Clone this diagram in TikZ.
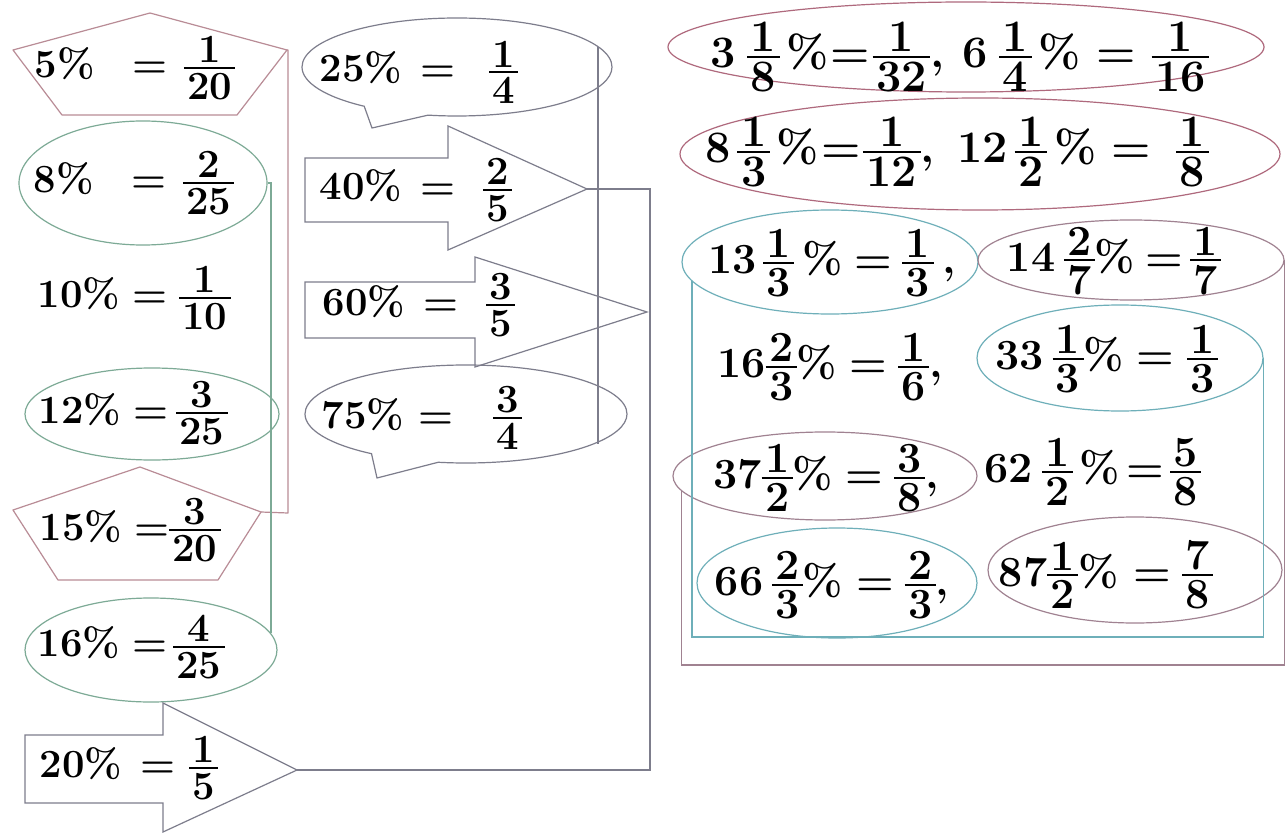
\documentclass[tikz,border=0pt]{standalone}
\usetikzlibrary{shapes.geometric,shapes.callouts}
\definecolor{greenl}{RGB}{125,170,150}
\definecolor{pinkl}{RGB}{185,140,150}
\definecolor{grayl}{RGB}{125,125,140}
\definecolor{redl}{RGB}{175,105,125}
\definecolor{cyanl}{RGB}{110,175,185}
\definecolor{pgrayl}{RGB}{160,130,145}
\newcommand\fr[2]{\lower0.5325em\vbox{\offinterlineskip
 \halign{\hfil##\hfil\cr
 \kern0.08em\rule{0pt}{0.66em}#1\kern0.08em\cr
 \noalign{\kern0.1em}
 \leaders\hrule height 0.045em\hfill\cr
 \noalign{\kern0.1em}
 \kern0.08em\rule{0pt}{0.66em}#2\kern0.08em\cr}}}
\newcommand\hs[1]{\hspace{#1em}}
\tikzset{
 lbl/.style={inner sep=0pt, font=\fontsize{40}{44}\selectfont\bfseries},
 rlbl/.style={inner sep=0pt, font=\fontsize{43}{47}\selectfont\bfseries},
 big/.style={inner sep=0pt, font=\fontsize{45}{49}\selectfont\bfseries},
 ell/.style={ellipse, draw, line width=1.2pt, inner sep=0pt},
 greenell/.style={ell, draw=greenl},
 redell/.style={ell, draw=redl},
 cyanell/.style={ell, draw=cyanl},
 pgell/.style={ell, draw=pgrayl},
 pentline/.style={draw=pinkl, line width=1.2pt, line join=round},
 arrline/.style={draw=grayl, line width=1.2pt},
 callbox/.style={ellipse callout, draw=grayl, line width=1.2pt, inner sep=0pt, callout pointer arc=26},
 conn/.style={draw=grayl, line width=1.6pt},
}
\begin{document}
\begin{tikzpicture}[x=1pt,y=-1pt]
\useasboundingbox[fill=white] (0,0) rectangle (1287,834);
% ---------- left column ----------
\draw[pentline] (150,13) -- (287,50) coordinate (p5r) -- (237,115) -- (62,115) -- (13,50) -- cycle;
\node[lbl] (t5) at (135,68) {5\%\hs{0.95}=\hs{0.4}\fr{1}{20}};
\node[greenell, minimum width=248pt, minimum height=124pt] (e8) at (143,183) {};
\node[lbl] (t8) at (134,183) {8\%\hs{0.95}=\hs{0.4}\fr{2}{25}};
\node[lbl] (t10) at (134,298) {10\%\hs{0.3}=\hs{0.3}\fr{1}{10}};
\node[greenell, minimum width=254pt, minimum height=92pt] (e12) at (152,414) {};
\node[lbl] (t12) at (133,413) {12\%\hs{0.3}=\hs{0.2}\fr{3}{25}};
\draw[pentline] (140,467) -- (261,512) coordinate (p15r) -- (218,580) -- (58,580) -- (13,510) -- cycle;
\node[lbl] (t15) at (130,530) {15\%\hs{0.3}=\fr{3}{20}};
\node[greenell, minimum width=252pt, minimum height=104pt] (e16) at (151,650) {};
\node[lbl] (t16) at (131,647) {16\%\hs{0.3}=\hs{0.15}\fr{4}{25}};
\draw[arrline] (25,735) -- (163,735) -- (163,703) -- (297,770) coordinate (a20tip) -- (163,832) -- (163,803) -- (25,803) -- cycle;
\node[lbl] (t20) at (129,768) {20\%\hs{0.45}=\hs{0.35}\fr{1}{5}};
% ---------- middle column ----------
\node[callbox, minimum width=310pt, minimum height=98pt, callout absolute pointer={(372,128)}] (c25) at (457,67) {};
\node[lbl] (t25) at (419,72) {25\%\hs{0.45}=\hs{0.85}\fr{1}{4}};
\draw[arrline] (305,158) -- (448,158) -- (448,126) -- (587,189) coordinate (a40tip) -- (448,250) -- (448,222) -- (305,222) -- cycle;
\node[lbl] (t40) at (416,190) {40\%\hs{0.45}=\hs{0.7}\fr{2}{5}};
\draw[arrline] (305,282) -- (475,282) -- (475,257) -- (647,312) coordinate (a60tip) -- (475,367) -- (475,338) -- (305,338) -- cycle;
\node[lbl] (t60) at (419,305) {60\%\hs{0.45}=\hs{0.7}\fr{3}{5}};
\node[callbox, minimum width=322pt, minimum height=98pt, callout absolute pointer={(377,478)}] (c75) at (466,414) {};
\node[lbl] (t75) at (422,418) {75\%\hs{0.35}=\hs{1.0}\fr{3}{4}};
\coordinate (g1) at (598,47);
\coordinate (g2) at (598,444);
\draw[conn, line width=1.2pt] (g1) -- (g2);
% pink bracket 5% -- 15%
\coordinate (b1) at (288,513);
\draw[pentline] (p5r) -- (288,50) -- (b1) -- (p15r);
% green bracket 8% -- 16%
\draw[draw=greenl, line width=1.2pt] (e8.east) -| (e16.8);
% main connector
\coordinate (j) at (650,770);
\draw[conn] (a40tip) -| (j) -- (a20tip);
% ---------- right column ----------
\node[redell, minimum width=596pt, minimum height=90pt] (E1) at (966,47) {};
\node[big] (r1) at (960,57) {3\hs{0.25}\fr{1}{8}\hs{0.15}\%\hs{0.05}=\hs{0.05}\fr{1}{32},\hs{0.4}6\hs{0.25}\fr{1}{4}\hs{0.15}\%\hs{0.35}=\hs{0.35}\fr{1}{16}};
\node[redell, minimum width=600pt, minimum height=112pt] (E2) at (980,154) {};
\node[big] (r2) at (957,152) {8\hs{0.15}\fr{1}{3}\hs{0.15}\%\hs{0.05}=\hs{0.05}\fr{1}{12},\hs{0.5}12\hs{0.15}\fr{1}{2}\hs{0.15}\%\hs{0.35}=\hs{0.55}\fr{1}{8}};
\node[cyanell, minimum width=296pt, minimum height=104pt] (e13) at (830,262) {};
\node[rlbl] (r13) at (832,263) {13\hs{0.15}\fr{1}{3}\hs{0.2}\%\hs{0.25}=\hs{0.25}\fr{1}{3}\hs{0.2},};
\node[pgell, minimum width=306pt, minimum height=80pt] (e14) at (1131,260) {};
\node[rlbl] (r14) at (1114,261) {14\hs{0.2}\fr{2}{7}\%\hs{0.25}=\hs{0.15}\fr{1}{7}};
\node[rlbl] (r16) at (830,367) {16\fr{2}{3}\%\hs{0.3}=\hs{0.25}\fr{1}{6},};
\node[cyanell, minimum width=286pt, minimum height=106pt] (e33) at (1120,358) {};
\node[rlbl] (r33) at (1107,359) {33\hs{0.2}\fr{1}{3}\%\hs{0.3}=\hs{0.3}\fr{1}{3}};
\node[pgell, minimum width=304pt, minimum height=88pt] (e37) at (825,476) {};
\node[rlbl] (r37) at (826,478) {37\fr{1}{2}\%\hs{0.3}=\hs{0.25}\fr{3}{8},};
\node[rlbl] (r62) at (1093,472) {62\hs{0.2}\fr{1}{2}\hs{0.15}\%\hs{0.15}=\hs{0.15}\fr{5}{8}};
\node[cyanell, minimum width=280pt, minimum height=110pt] (e66) at (837,583) {};
\node[rlbl] (r66) at (832,585) {66\hs{0.2}\fr{2}{3}\%\hs{0.3}=\hs{0.25}\fr{2}{3},};
\node[pgell, minimum width=294pt, minimum height=106pt] (e87) at (1135,570) {};
\node[rlbl] (r87) at (1106,575) {87\fr{1}{2}\%\hs{0.35}=\hs{0.25}\fr{7}{8}};
% cyan and pink frames
\coordinate (cb) at (694,637);
\draw[draw=cyanl, line width=1.4pt] (e13.188) |- (cb) -| (e33.east);
\coordinate (pb) at (682,665);
\draw[draw=pgrayl, line width=1.4pt] (e37.186) |- (pb) -| (e14.east);
\end{tikzpicture}
\end{document}
